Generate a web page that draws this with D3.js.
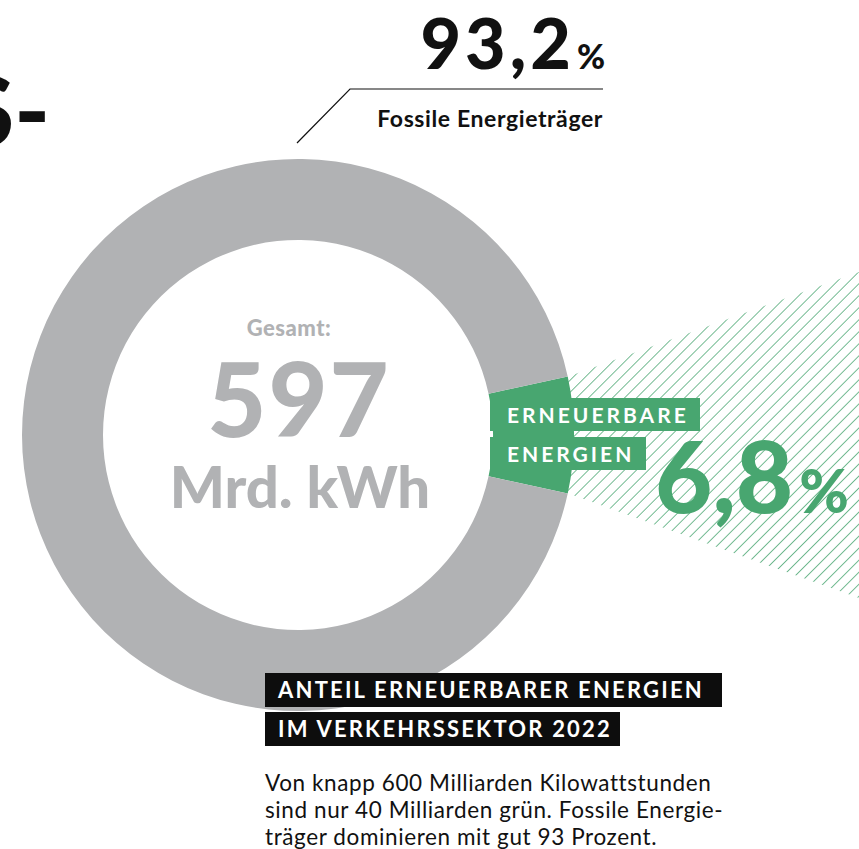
<!DOCTYPE html>
<html>
<head>
<meta charset="utf-8">
<script src="https://cdn.jsdelivr.net/npm/d3@7"></script>
<style>
  html, body { margin: 0; padding: 0; background: #fff; }
  svg { display: block; font-family: Lato, "Open Sans", sans-serif; }
</style>
</head>
<body>
<svg id="chart" width="859" height="849"></svg>
<script>
// data
var categories = ["Erneuerbare Energien", "Fossile Energieträger"];
var shares = [6.8, 93.2];
var shareLabels = ["6,8", "93,2"];
var total = 597;
var totalUnit = "Mrd. kWh";
var titleLines = ["ANTEIL ERNEUERBARER ENERGIEN", "IM VERKEHRSSEKTOR 2022"];
var textLines = ["Von knapp 600 Milliarden Kilowattstunden",
                 "sind nur 40 Milliarden grün. Fossile Energie-",
                 "träger dominieren mit gut 93 Prozent."];

var GREEN = "#48a670", GREY = "#b1b2b4";
var svg = d3.select("#chart");
var cx = 298, cy = 435, R = 276, r = 195;

// hatch pattern
var defs = svg.append("defs");
var pat = defs.append("pattern")
    .attr("id", "hatch").attr("patternUnits", "userSpaceOnUse")
    .attr("width", 8.5).attr("height", 8.5)
    .attr("patternTransform", "rotate(45)");
pat.append("line").attr("x1", 0).attr("y1", 0).attr("x2", 0).attr("y2", 8.5)
    .attr("stroke", GREEN).attr("stroke-width", 1.5);

// hatched wedge coming out of green slice
var slope = 0.36;
var wedge = [[540, cy - 58 + slope * 27], [859, cy - 58 - slope * 292],
             [859, cy + 58 + slope * 292], [540, cy + 58 - slope * 27]];
svg.append("path")
    .attr("d", "M" + wedge.join("L") + "Z")
    .attr("fill", "url(#hatch)");

// big cut heading on the left
svg.append("text").attr("x", 50).attr("y", 146)
    .attr("text-anchor", "end").attr("font-size", 96).attr("font-weight", 900)
    .attr("fill", "#111").text("S-");

// donut
var angle = shares[0] / 100 * Math.PI * 2;
var pie = d3.pie().sort(null)
    .startAngle(Math.PI / 2 - angle / 2)
    .endAngle(Math.PI / 2 - angle / 2 + Math.PI * 2);
var arc = d3.arc().innerRadius(r).outerRadius(R);
var g = svg.append("g").attr("transform", "translate(" + cx + "," + cy + ")");
g.selectAll("path").data(pie(shares)).enter().append("path")
    .attr("d", arc)
    .attr("fill", function(d, i){ return i == 0 ? GREEN : GREY; });

// centre text
svg.append("text").attr("x", 289).attr("y", 336).attr("text-anchor", "middle")
    .attr("font-size", 22).attr("font-weight", 900).attr("letter-spacing", 0.5)
    .attr("fill", GREY).text("Gesamt:");
svg.append("text").attr("x", 299).attr("y", 437).attr("text-anchor", "middle")
    .attr("font-size", 102).attr("font-weight", 900).attr("fill", GREY)
    .attr("letter-spacing", 2).text(total);
svg.append("text").attr("x", 300).attr("y", 508).attr("text-anchor", "middle")
    .attr("font-size", 58).attr("font-weight", 900).attr("fill", GREY).text(totalUnit);

// green label boxes
var boxes = [{t: "ERNEUERBARE", y: 398, w: 700}, {t: "ENERGIEN", y: 437, w: 646}];
svg.selectAll("rect.gbox").data(boxes).enter().append("rect")
    .attr("class", "gbox").attr("x", 490).attr("y", function(d){ return d.y; })
    .attr("width", function(d){ return d.w - 490; }).attr("height", 33)
    .attr("fill", GREEN);
svg.selectAll("text.gbox").data(boxes).enter().append("text")
    .attr("class", "gbox").attr("x", 507).attr("y", function(d){ return d.y + 25; })
    .attr("font-size", 21).attr("font-weight", 700).attr("letter-spacing", 3)
    .attr("fill", "#fff").text(function(d){ return d.t; });

var green = svg.append("text").attr("x", 655).attr("y", 513)
    .attr("font-size", 99).attr("font-weight", 900).attr("fill", GREEN);
green.append("tspan").text(shareLabels[0]);
green.append("tspan").attr("font-size", 60).attr("dx", 6).text("%");

// fossil label
var fossil = svg.append("text").attr("x", 605).attr("y", 69).attr("text-anchor", "end")
    .attr("font-size", 70).attr("font-weight", 900).attr("fill", "#111");
fossil.append("tspan").attr("letter-spacing", 4).text(shareLabels[1]);
fossil.append("tspan").attr("font-size", 34).attr("dx", 2).text("%");
svg.append("polyline").attr("points", "297,143 350,89 603,89")
    .attr("fill", "none").attr("stroke", "#111").attr("stroke-width", 1.2);
svg.append("text").attr("x", 603).attr("y", 127).attr("text-anchor", "end")
    .attr("font-size", 23).attr("font-weight", 700).attr("letter-spacing", 0.6)
    .attr("fill", "#111").text(categories[1]);

// title boxes
var tw = [722, 620];
svg.selectAll("rect.tbox").data(titleLines).enter().append("rect")
    .attr("class", "tbox").attr("x", 265)
    .attr("y", function(d, i){ return 673 + i * 39; })
    .attr("width", function(d, i){ return tw[i] - 265; }).attr("height", 34)
    .attr("fill", "#0d0d0d");
svg.selectAll("text.tbox").data(titleLines).enter().append("text")
    .attr("class", "tbox").attr("x", 278)
    .attr("y", function(d, i){ return 698 + i * 39; })
    .attr("font-size", 22).attr("font-weight", 700).attr("letter-spacing", 2.2)
    .attr("fill", "#fff").text(function(d){ return d; });

// body text
svg.selectAll("text.body").data(textLines).enter().append("text")
    .attr("class", "body").attr("x", 265)
    .attr("y", function(d, i){ return 791 + i * 27; })
    .attr("font-size", 22.5).attr("letter-spacing", 0.6)
    .attr("fill", "#111").text(function(d){ return d; });
</script>
</body>
</html>
